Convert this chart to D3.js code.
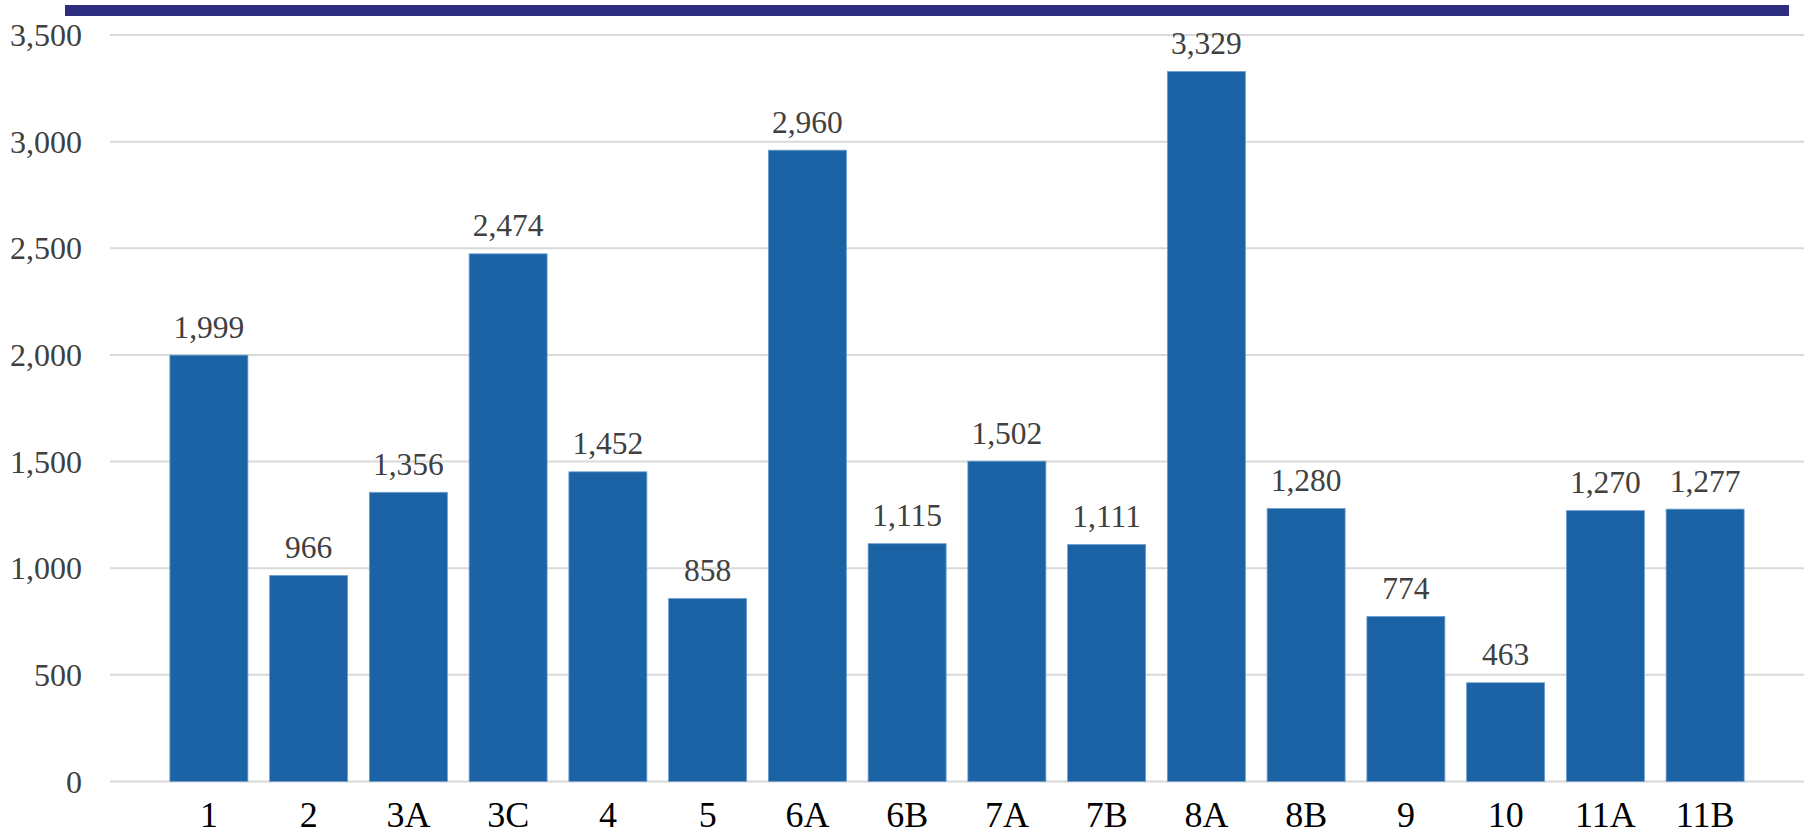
<!DOCTYPE html>
<html>
<head>
<meta charset="utf-8">
<script src="https://cdn.jsdelivr.net/npm/d3@7"></script>
<style>
  html, body { margin: 0; padding: 0; background: #ffffff; }
  svg { display: block; }
</style>
</head>
<body>
<svg id="chart" width="1806" height="836"></svg>
<script>
// Category labels along the x axis
const categories = ["1", "2", "3A", "3C", "4", "5", "6A", "6B", "7A", "7B", "8A", "8B", "9", "10", "11A", "11B"];
// Bar values
const values = [1999, 966, 1356, 2474, 1452, 858, 2960, 1115, 1502, 1111, 3329, 1280, 774, 463, 1270, 1277];
// Y axis tick values
const yTicks = [0, 500, 1000, 1500, 2000, 2500, 3000, 3500];

const svg = d3.select("#chart");

const fontFamily = "'Liberation Serif', 'Times New Roman', serif";

// Banner strip across the top
svg.append("rect")
  .attr("x", 65).attr("y", 5)
  .attr("width", 1789 - 65).attr("height", 11)
  .attr("fill", "#2d2e7f");

const y = d3.scaleLinear().domain([0, 3500]).range([781.5, 35]);
const x = d3.scaleBand().domain(categories)
  .range([159, 1755])
  .paddingInner(0.218)
  .paddingOuter(0.109);

// Horizontal gridlines
svg.append("g")
  .selectAll("line")
  .data(yTicks)
  .join("line")
  .attr("x1", 110).attr("x2", 1804)
  .attr("y1", d => y(d)).attr("y2", d => y(d))
  .attr("stroke", "#d9d9d9")
  .attr("stroke-width", 2);

// Y axis labels
const yAxis = d3.axisLeft(y).tickValues(yTicks).tickFormat(d3.format(",")).tickSize(0).tickPadding(0);
const gy = svg.append("g").attr("transform", "translate(82,0)").call(yAxis);
gy.select(".domain").remove();
gy.selectAll("text")
  .attr("font-family", fontFamily)
  .attr("font-size", 32)
  .attr("fill", "#404040")
  .attr("dy", "0.33em");

// Bars
svg.append("g")
  .selectAll("rect")
  .data(values)
  .join("rect")
  .attr("x", (d, i) => x(categories[i]))
  .attr("width", x.bandwidth())
  .attr("y", d => y(d))
  .attr("height", d => y(0) - y(d))
  .attr("fill", "#1c63a6")
  .attr("stroke", "#6f9fcf")
  .attr("stroke-width", 0.8);

// Value labels above bars
svg.append("g")
  .selectAll("text")
  .data(values)
  .join("text")
  .attr("x", (d, i) => x(categories[i]) + x.bandwidth() / 2)
  .attr("y", d => y(d) - 17.5)
  .attr("text-anchor", "middle")
  .attr("font-family", fontFamily)
  .attr("font-size", 31.5)
  .attr("fill", "#404040")
  .text(d => d3.format(",")(d));

// X axis labels
const xAxis = d3.axisBottom(x).tickSize(0).tickPadding(0);
const gx = svg.append("g").attr("transform", "translate(0,827)").call(xAxis);
gx.select(".domain").remove();
gx.selectAll("text")
  .attr("font-family", fontFamily)
  .attr("font-size", 36)
  .attr("fill", "#000000")
  .attr("dy", 0);
</script>
</body>
</html>
